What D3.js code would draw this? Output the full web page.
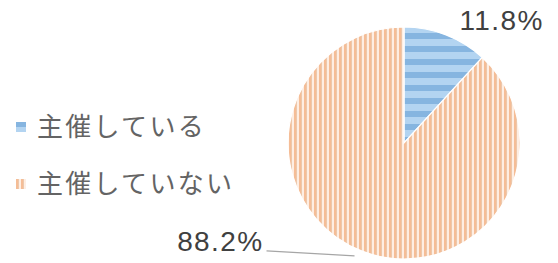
<!DOCTYPE html>
<html>
<head>
<meta charset="utf-8">
<script src="https://cdn.jsdelivr.net/npm/d3@7"></script>
<style>
  body { margin: 0; background: #fff; }
  svg { display: block; }
</style>
</head>
<body>
<svg id="chart"></svg>
<script>
const categories = ['主催している', '主催していない'];
const values = [11.8, 88.2];
const valueLabels = ['11.8%', '88.2%'];
const patternIds = ['blueStripe', 'orangeStripe'];

const width = 558;
const height = 263;
const cx = 404, cy = 143, radius = 116;

const svg = d3.select('#chart')
  .attr('width', width)
  .attr('height', height);

const defs = svg.append('defs');

// horizontal blue stripes
const pb = defs.append('pattern')
  .attr('id', 'blueStripe')
  .attr('patternUnits', 'userSpaceOnUse')
  .attr('width', 8).attr('height', 13);
pb.append('rect').attr('width', 8).attr('height', 13).attr('fill', '#b3d4f1');
pb.append('rect').attr('y', 7).attr('width', 8).attr('height', 6).attr('fill', '#86b5e0');

// vertical orange stripes
const po = defs.append('pattern')
  .attr('id', 'orangeStripe')
  .attr('patternUnits', 'userSpaceOnUse')
  .attr('width', 5).attr('height', 8);
po.append('rect').attr('width', 5).attr('height', 8).attr('fill', '#feeee3');
po.append('rect').attr('x', 0).attr('width', 2).attr('height', 8).attr('fill', '#f5bd96');
po.append('rect').attr('x', 2).attr('width', 1).attr('height', 8).attr('fill', '#ecc8ac');

const pie = d3.pie().sort(null).value(d => d);
const arcs = pie(values);
const arc = d3.arc().innerRadius(0).outerRadius(radius);

const g = svg.append('g').attr('transform', `translate(${cx},${cy})`);

g.selectAll('path.slice')
  .data(arcs)
  .enter()
  .append('path')
  .attr('class', 'slice')
  .attr('d', arc)
  .attr('fill', (d, i) => `url(#${patternIds[i]})`)
  .attr('stroke', '#fff')
  .attr('stroke-width', 1.2);

// data labels
const outerArc = d3.arc().innerRadius(radius + 4).outerRadius(radius + 4);
const labelFont = '"Liberation Sans", "DejaVu Sans", sans-serif';

// label for small slice: above-right
const p0 = outerArc.centroid(arcs[0]);
g.append('text')
  .attr('x', p0[0] + 12)
  .attr('y', p0[1] - 1)
  .attr('font-family', labelFont)
  .attr('font-size', 28)
  .attr('letter-spacing', 1.4)
  .attr('fill', '#404040')
  .text(valueLabels[0]);

// label for big slice with leader line
const p1 = outerArc.centroid(arcs[1]);
const lx = p1[0] - 97;
const ly = p1[1] - 4;
g.append('polyline')
  .attr('points', [[p1[0] - 6, p1[1] + 1], [lx + 3, ly]].map(p => p.join(',')).join(' '))
  .attr('fill', 'none')
  .attr('stroke', '#a6a6a6')
  .attr('stroke-width', 1.3);
g.append('text')
  .attr('x', lx)
  .attr('y', ly)
  .attr('text-anchor', 'end')
  .attr('font-family', labelFont)
  .attr('font-size', 28)
  .attr('letter-spacing', 1.4)
  .attr('fill', '#404040')
  .text(valueLabels[1]);

// legend
const legend = svg.append('g').attr('transform', 'translate(16,127)');
const items = legend.selectAll('g')
  .data(categories)
  .enter()
  .append('g')
  .attr('transform', (d, i) => `translate(0,${i * 57})`);

items.append('rect')
  .attr('x', 0)
  .attr('y', -5)
  .attr('width', 10)
  .attr('height', 10)
  .attr('fill', (d, i) => `url(#${patternIds[i]})`);

items.append('text')
  .attr('x', 21)
  .attr('y', 0)
  .attr('dy', '0.36em')
  .attr('font-family', '"Noto Sans CJK JP", sans-serif')
  .attr('font-size', 26)
  .attr('letter-spacing', 2.3)
  .attr('fill', '#646464')
  .text(d => d);
</script>
</body>
</html>
